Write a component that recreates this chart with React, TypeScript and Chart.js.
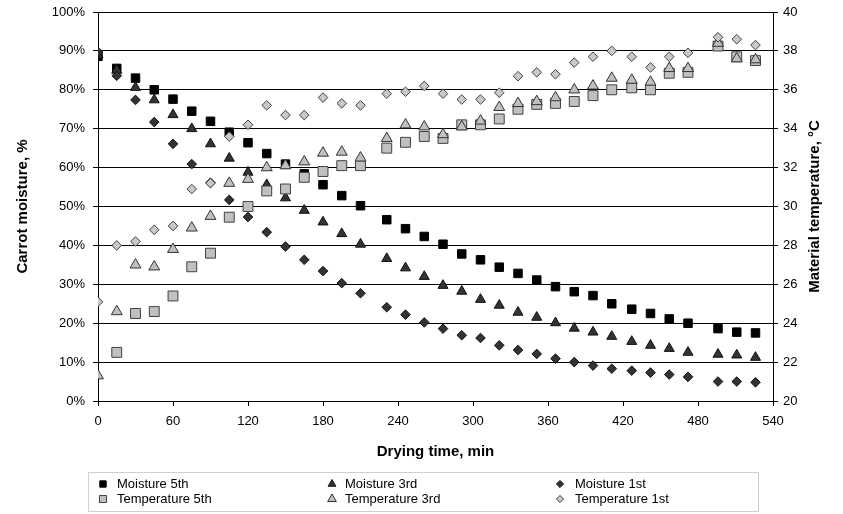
import { useEffect, useRef } from 'react';
import { Chart, registerables } from 'chart.js';
import { drawPoint } from 'chart.js/helpers';

Chart.register(...registerables);

// Drying time (min)
const times = [0, 15, 30, 45, 60, 75, 90, 105, 120, 135, 150, 165, 180, 195, 210, 231, 246, 261, 276, 291, 306, 321, 336, 351, 366, 381, 396, 411, 427, 442, 457, 472, 496, 511, 526];

// Carrot moisture (%)
const moisture5th = [88.6, 85.5, 83.0, 80.0, 77.6, 74.5, 71.9, 69.1, 66.4, 63.6, 60.9, 58.4, 55.6, 52.8, 50.2, 46.6, 44.3, 42.3, 40.3, 37.8, 36.3, 34.4, 32.8, 31.1, 29.4, 28.1, 27.1, 25.0, 23.6, 22.5, 21.1, 20.0, 18.6, 17.7, 17.5];
const moisture3rd = [89.0, 85.0, 80.6, 77.4, 73.6, 70.0, 66.1, 62.4, 58.8, 55.6, 52.2, 49.0, 46.0, 43.0, 40.3, 36.6, 34.2, 32.0, 29.7, 28.2, 26.1, 24.6, 22.8, 21.5, 20.1, 18.7, 17.7, 16.6, 15.3, 14.3, 13.5, 12.5, 12.0, 11.8, 11.2];
const moisture1st = [89.7, 83.6, 77.4, 71.7, 66.1, 60.9, 56.1, 51.7, 47.3, 43.4, 39.7, 36.3, 33.4, 30.3, 27.7, 24.1, 22.2, 20.2, 18.6, 16.9, 16.2, 14.3, 13.1, 12.1, 10.9, 10.0, 9.1, 8.3, 7.8, 7.3, 6.8, 6.2, 5.0, 5.0, 4.8];

// Material temperature (°C)
const temperature5th = [null, 22.5, 24.5, 24.6, 25.4, 26.9, 27.6, 29.45, 30.0, 30.8, 30.9, 31.5, 31.8, 32.1, 32.1, 33.0, 33.3, 33.6, 33.5, 34.2, 34.2, 34.5, 35.0, 35.25, 35.3, 35.4, 35.7, 36.0, 36.1, 36.0, 36.85, 36.9, 38.25, 37.7, 37.5];
const temperature3rd = [21.3, 24.6, 27.0, 26.9, 27.8, 28.9, 29.5, 31.2, 31.4, 32.0, 32.1, 32.3, 32.75, 32.8, 32.5, 33.5, 34.2, 34.1, 33.7, 34.1, 34.4, 35.1, 35.3, 35.4, 35.6, 36.0, 36.2, 36.6, 36.5, 36.4, 37.1, 37.1, 38.4, 37.6, 37.55];
const temperature1st = [25.1, 28.0, 28.2, 28.8, 29.0, 30.9, 31.2, 33.6, 34.2, 35.2, 34.7, 34.7, 35.6, 35.3, 35.2, 35.8, 35.9, 36.2, 35.8, 35.5, 35.5, 35.85, 36.7, 36.9, 36.8, 37.4, 37.7, 38.0, 37.7, 37.15, 37.7, 37.9, 38.7, 38.6, 38.3];

const seriesNames = ['Moisture 5th', 'Moisture 3rd', 'Moisture 1st', 'Temperature 5th', 'Temperature 3rd', 'Temperature 1st'];

const xTitle = 'Drying time, min';
const leftTitle = 'Carrot moisture, %';
const rightTitle = 'Material temperature, °C';

const FONT = "'Liberation Sans', Arial, Helvetica, sans-serif";

function toPoints(vals: (number | null)[]) {
  const out: { x: number; y: number }[] = [];
  times.forEach((t, i) => {
    const v = vals[i];
    if (v !== null && v !== undefined) out.push({ x: t, y: v });
  });
  return out;
}

export default function App() {
  const ref = useRef<HTMLCanvasElement>(null);

  useEffect(() => {
    document.body.style.margin = '0';
    const canvas = ref.current;
    if (!canvas) return;

    const styles = [
      { pointStyle: 'rect', bg: '#000000', border: '#000000', r: 6, lr: 4.5, axis: 'y' },
      { pointStyle: 'triangle', bg: '#333333', border: '#111111', r: 5.8, lr: 4.5, axis: 'y' },
      { pointStyle: 'rectRot', bg: '#333333', border: '#111111', r: 4.8, lr: 3.6, axis: 'y' },
      { pointStyle: 'rect', bg: '#c0c0c0', border: '#404040', r: 7, lr: 5, axis: 'y1' },
      { pointStyle: 'triangle', bg: '#c0c0c0', border: '#333333', r: 6.3, lr: 5, axis: 'y1' },
      { pointStyle: 'rectRot', bg: '#c8c8c8', border: '#404040', r: 4.8, lr: 3.6, axis: 'y1' },
    ];
    const values = [moisture5th, moisture3rd, moisture1st, temperature5th, temperature3rd, temperature1st];

    const datasets = values.map((vals, i) => ({
      label: seriesNames[i],
      data: toPoints(vals),
      yAxisID: styles[i].axis,
      pointStyle: styles[i].pointStyle as any,
      pointRadius: styles[i].r,
      pointHoverRadius: styles[i].r,
      pointBackgroundColor: styles[i].bg,
      pointBorderColor: styles[i].border,
      pointBorderWidth: 1,
      showLine: false,
      order: 6 - i,
    }));

    const legendPlugin = {
      id: 'columnLegend',
      afterDraw(chart: any) {
        const ctx = chart.ctx as CanvasRenderingContext2D;
        ctx.save();
        // legend frame
        ctx.strokeStyle = '#d0d0d0';
        ctx.lineWidth = 1;
        ctx.strokeRect(88.5, 472.5, 670, 39);
        const markerX = [103, 332, 560];
        const textX = [117, 345, 575];
        const rowY = [484, 499];
        ctx.font = `13px ${FONT}`;
        ctx.textBaseline = 'middle';
        ctx.textAlign = 'left';
        seriesNames.forEach((name, i) => {
          const col = i % 3;
          const row = Math.floor(i / 3);
          const s = styles[i];
          ctx.fillStyle = s.bg;
          ctx.strokeStyle = s.border;
          ctx.lineWidth = 1;
          drawPoint(ctx, { pointStyle: s.pointStyle as any, radius: s.lr, rotation: 0, borderWidth: 1 }, markerX[col], rowY[row]);
          ctx.fillStyle = '#000000';
          ctx.fillText(name, textX[col], rowY[row]);
        });
        // right axis title (reads bottom to top)
        const area = chart.chartArea;
        ctx.translate(815, (area.top + area.bottom) / 2);
        ctx.rotate(-Math.PI / 2);
        ctx.font = `bold 15px ${FONT}`;
        ctx.textAlign = 'center';
        ctx.textBaseline = 'middle';
        ctx.fillStyle = '#000000';
        ctx.fillText(rightTitle, 0, 0);
        ctx.restore();
      },
    };

    const chart = new Chart(canvas, {
      type: 'scatter',
      data: { datasets: datasets as any },
      options: {
        animation: false,
        responsive: true,
        maintainAspectRatio: false,
        layout: { padding: { top: 12, left: 0, right: 0, bottom: 0 } },
        plugins: {
          legend: { display: false },
          tooltip: { enabled: false },
        },
        scales: {
          x: {
            type: 'linear',
            min: 0,
            max: 540,
            ticks: { stepSize: 60, color: '#000', font: { family: FONT, size: 13 }, padding: 8 },
            grid: { drawOnChartArea: false, drawTicks: true, tickLength: 5, color: '#000' },
            border: { display: true, color: '#000' },
            title: {
              display: true,
              text: xTitle,
              color: '#000',
              font: { family: FONT, size: 15, weight: 'bold' },
              padding: { top: 0, bottom: 53 },
            },
            afterFit: (s: any) => { s.height = 113; s.paddingLeft = 0; s.paddingRight = 0; },
          },
          y: {
            type: 'linear',
            position: 'left',
            min: 0,
            max: 100,
            ticks: {
              stepSize: 10,
              color: '#000',
              font: { family: FONT, size: 13 },
              padding: 8,
              callback: (v: any) => `${v}%`,
            },
            grid: { color: '#000', tickLength: 5, drawTicks: true },
            border: { display: true, color: '#000' },
            title: {
              display: true,
              text: leftTitle,
              color: '#000',
              font: { family: FONT, size: 15, weight: 'bold' },
              padding: { top: 14, bottom: 0 },
            },
            afterFit: (s: any) => { s.width = 98; s.paddingTop = 0; s.paddingBottom = 0; },
          },
          y1: {
            type: 'linear',
            position: 'right',
            min: 20,
            max: 40,
            ticks: { stepSize: 2, color: '#000', font: { family: FONT, size: 13 }, padding: 5 },
            grid: { drawOnChartArea: false, drawTicks: true, tickLength: 5, color: '#000' },
            border: { display: true, color: '#000' },
            afterFit: (s: any) => { s.width = 70; s.paddingTop = 0; s.paddingBottom = 0; },
          },
        },
      },
      plugins: [legendPlugin],
    });

    return () => chart.destroy();
  }, []);

  return (
    <div style={{ width: 843, height: 514, position: 'relative' }}>
      <canvas ref={ref} />
    </div>
  );
}
